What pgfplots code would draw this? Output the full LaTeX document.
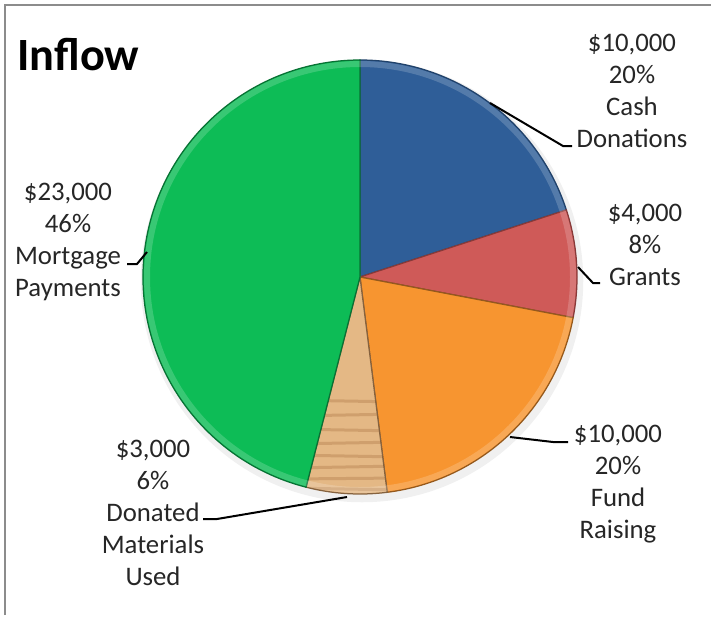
\documentclass[border=0pt]{standalone}
\usepackage{pgfplots}
\pgfplotsset{compat=1.18}
\usepackage{fontspec}
\setmainfont{Carlito}

\definecolor{cashblue}{RGB}{47,94,152}
\definecolor{grantred}{RGB}{207,90,88}
\definecolor{fundorange}{RGB}{247,149,48}
\definecolor{matwood}{RGB}{228,184,133}
\definecolor{woodline}{RGB}{190,140,90}
\definecolor{mortgreen}{RGB}{13,188,86}
\definecolor{framegray}{RGB}{140,140,140}

\tikzset{lbl/.style={font=\fontsize{10.7}{12.8}\selectfont, align=center, inner sep=0pt, text=black!85}}

% slice values (clockwise from 12 o'clock)
\def\vCash{10000}
\def\vGrants{4000}
\def\vFund{10000}
\def\vMat{3000}
\def\vMort{23000}
\pgfkeys{/pgf/fpu=true, /pgf/fpu/output format=fixed}
\pgfmathsetmacro\total{\vCash+\vGrants+\vFund+\vMat+\vMort}
\pgfmathsetmacro\aA{90}
\pgfmathsetmacro\aB{\aA-\vCash/\total*360}
\pgfmathsetmacro\aC{\aB-\vGrants/\total*360}
\pgfmathsetmacro\aD{\aC-\vFund/\total*360}
\pgfmathsetmacro\aE{\aD-\vMat/\total*360}
\pgfmathsetmacro\aF{\aE-\vMort/\total*360}
\pgfkeys{/pgf/fpu=false}
\def\R{86.8pt}

\begin{document}
\begin{tikzpicture}
\begin{axis}[
  x=0.4pt, y=0.4pt,
  xmin=0, xmax=713, ymin=0, ymax=615,
  hide axis, clip=false,
]
\path (axis cs:0,0) rectangle (axis cs:713,615);
\draw[framegray, line width=0.8pt] (axis cs:5,0) -- (axis cs:5,610) -- (axis cs:711,610);

% faint drop shadow
\fill[black, opacity=0.06] (axis cs:362,334) circle[radius=88.5pt];

% wedges
\filldraw[fill=cashblue, draw=cashblue!70!black, line width=0.5pt]
  (axis cs:360,338) -- ++(\aA:\R) arc[start angle=\aA, end angle=\aB, radius=\R] -- cycle;
\filldraw[fill=grantred, draw=grantred!65!black, line width=0.5pt]
  (axis cs:360,338) -- ++(\aB:\R) arc[start angle=\aB, end angle=\aC, radius=\R] -- cycle;
\filldraw[fill=fundorange, draw=fundorange!60!black, line width=0.5pt]
  (axis cs:360,338) -- ++(\aC:\R) arc[start angle=\aC, end angle=\aD, radius=\R] -- cycle;
\begin{scope}
  \clip (axis cs:360,338) -- ++(\aD:\R) arc[start angle=\aD, end angle=\aE, radius=\R] -- cycle;
  \fill[matwood] (axis cs:300,100) rectangle (axis cs:400,340);
  \draw[woodline, line width=1.2pt, opacity=0.55]
    (axis cs:290,215) -- (axis cs:400,213)
    (axis cs:290,199) -- (axis cs:400,201)
    (axis cs:290,186) -- (axis cs:400,184)
    (axis cs:290,171) -- (axis cs:400,173)
    (axis cs:290,160) -- (axis cs:400,158)
    (axis cs:290,147) -- (axis cs:400,149)
    (axis cs:290,136) -- (axis cs:400,137)
    (axis cs:290,127) -- (axis cs:400,125);
\end{scope}
\draw[woodline!70!black, line width=0.5pt]
  (axis cs:360,338) -- ++(\aD:\R) arc[start angle=\aD, end angle=\aE, radius=\R] -- cycle;
\filldraw[fill=mortgreen, draw=mortgreen!60!black, line width=0.5pt]
  (axis cs:360,338) -- ++(\aE:\R) arc[start angle=\aE, end angle=\aF, radius=\R] -- cycle;

% bevel highlight along the rim
\draw[white, opacity=0.18, line width=2.4pt] (axis cs:360,338) circle[radius=85.2pt];

% leader lines
\draw[black, line width=0.8pt] (axis cs:490,512) -- (axis cs:563,469) -- (axis cs:572,469);
\draw[black, line width=0.8pt] (axis cs:578,348) -- (axis cs:593,332) -- (axis cs:600,332);
\draw[black, line width=0.8pt] (axis cs:510,178) -- (axis cs:553,173) -- (axis cs:568,173);
\draw[black, line width=0.8pt] (axis cs:347,118) -- (axis cs:217,96) -- (axis cs:203,96);
\draw[black, line width=0.8pt] (axis cs:147,363) -- (axis cs:137,351) -- (axis cs:127,351);

% labels
\node[lbl] at (axis cs:632,524) {\$10,000\\20\%\\Cash\\Donations};
\node[lbl] at (axis cs:645,370.5) {\$4,000\\8\%\\Grants};
\node[lbl] at (axis cs:618,131) {\$10,000\\20\%\\Fund\\Raising};
\node[lbl] at (axis cs:153,102.5) {\$3,000\\6\%\\Donated\\Materials\\Used};
\node[lbl] at (axis cs:68,373.5) {\$23,000\\46\%\\Mortgage\\Payments};

\node[anchor=west, inner sep=0pt, font=\fontsize{18.5}{22}\selectfont\bfseries, text=black] at (axis cs:17,560) {Inflow};
\end{axis}
\end{tikzpicture}
\end{document}
